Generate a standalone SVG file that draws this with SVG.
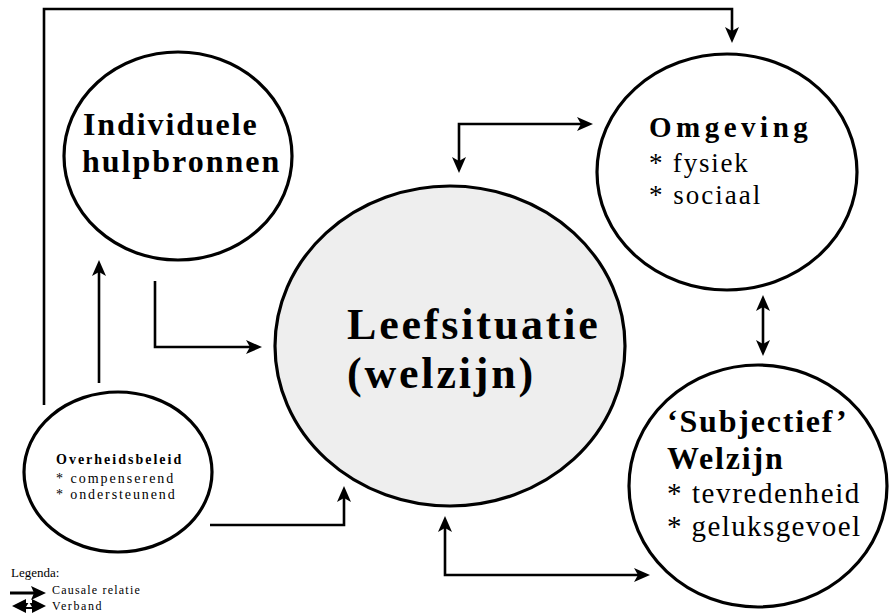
<svg xmlns="http://www.w3.org/2000/svg" width="889" height="614" viewBox="0 0 889 614">
<style>
.node{fill:#ffffff;stroke:#000000;stroke-width:3.2}
.main{fill:#eeeeee;stroke:#000000;stroke-width:3.2}
.conn{fill:none;stroke:#000000;stroke-width:2.6}
text{font-family:'Liberation Serif','DejaVu Serif','Times New Roman',serif;fill:#000}
.b{font-weight:bold}
</style>
<defs>
<marker id="ah" viewBox="0 0 16 14" markerWidth="16" markerHeight="14" markerUnits="userSpaceOnUse" refX="10" refY="7" orient="auto-start-reverse">
<path d="M0,0 L16,7 L0,14 L4,7 z" fill="#000"/>
</marker>
</defs>
<rect width="889" height="614" fill="#ffffff"/>

<g id="connectors">
<path class="conn" d="M44,405 V9 H732 V37" marker-end="url(#ah)"/>
<path class="conn" d="M99,383 V266" marker-end="url(#ah)"/>
<path class="conn" d="M155,281 V347 H256" marker-end="url(#ah)"/>
<path class="conn" d="M210,525 H344 V492" marker-end="url(#ah)"/>
<path class="conn" d="M445,522 V575 H644" marker-start="url(#ah)" marker-end="url(#ah)"/>
<path class="conn" d="M459,167 V124 H587" marker-start="url(#ah)" marker-end="url(#ah)"/>
<path class="conn" d="M763,301 V350" marker-start="url(#ah)" marker-end="url(#ah)"/>
</g>

<g id="node-leefsituatie">
<ellipse class="main" cx="450" cy="346" rx="175" ry="160"/>
<text class="b" x="347" y="339" font-size="44" letter-spacing="2.8">Leefsituatie</text>
<text class="b" x="347" y="388" font-size="44" letter-spacing="2.8">(welzijn)</text>
</g>

<g id="node-individuele">
<ellipse class="node" cx="178" cy="156" rx="114" ry="104"/>
<text class="b" x="83" y="135" font-size="32" letter-spacing="1.9">Individuele</text>
<text class="b" x="82" y="172" font-size="32" letter-spacing="2">hulpbronnen</text>
</g>

<g id="node-overheidsbeleid">
<ellipse class="node" cx="118" cy="472" rx="94" ry="80"/>
<text class="b" x="56" y="464" font-size="14" letter-spacing="2">Overheidsbeleid</text>
<text x="56" y="483" font-size="14" letter-spacing="2">* compenserend</text>
<text x="56" y="499" font-size="14" letter-spacing="1.9">* ondersteunend</text>
</g>

<g id="node-omgeving">
<ellipse class="node" cx="727" cy="172" rx="130" ry="118"/>
<text class="b" x="649" y="137" font-size="29" letter-spacing="4.5">Omgeving</text>
<text x="649" y="172" font-size="27" letter-spacing="1.8">* fysiek</text>
<text x="649" y="204" font-size="27" letter-spacing="2">* sociaal</text>
</g>

<g id="node-subjectief">
<ellipse class="node" cx="758" cy="486" rx="129" ry="121"/>
<text class="b" x="667" y="432" font-size="32" letter-spacing="1.8">‘Subjectief’</text>
<text class="b" x="667" y="469" font-size="32" letter-spacing="1.8">Welzijn</text>
<text x="667" y="503" font-size="29" letter-spacing="1.6">* tevredenheid</text>
<text x="667" y="536" font-size="29" letter-spacing="1.4">* geluksgevoel</text>
</g>

<g id="legend">
<text x="11" y="577" font-size="13">Legenda:</text>
<line x1="10" y1="593" x2="36" y2="593" stroke="#000" stroke-width="3"/>
<polygon points="46,593 31,586 34,593 31,600" fill="#000"/>
<text x="52" y="594" font-size="12" letter-spacing="1.2">Causale relatie</text>
<polygon points="12,606 26,599 26,613" fill="#000"/>
<polygon points="46,606 32,599 32,613" fill="#000"/>
<rect x="25" y="603" width="8" height="6" fill="#000"/>
<polygon points="29,602 26,607 32,607" fill="#fff"/>
<text x="52" y="610" font-size="12" letter-spacing="1.6">Verband</text>
</g>
</svg>
